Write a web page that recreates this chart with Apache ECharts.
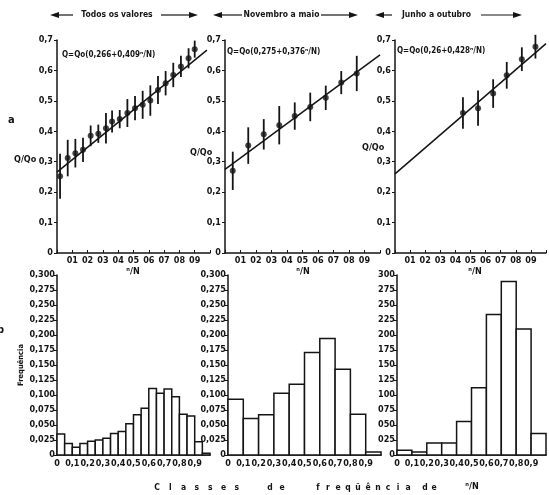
<!DOCTYPE html>
<html><head><meta charset="utf-8">
<script src="https://cdn.jsdelivr.net/npm/echarts@6/dist/echarts.min.js"></script>
<style>html,body{margin:0;padding:0;background:#fff}#c{width:549px;height:495px}</style>
</head><body><div id="c"></div>
<script>
// ---- panel titles
const panelTitles = ['Todos os valores', 'Novembro a maio', 'Junho a outubro'];
// ---- top panels (a): Q/Qo versus n/N, mean with error bars
const allX = [0.02,0.07,0.12,0.17,0.22,0.27,0.32,0.36,0.41,0.46,0.51,0.56,0.61,0.66,0.71,0.76,0.81,0.86,0.90];
const allY = [0.252,0.312,0.328,0.339,0.385,0.392,0.41,0.432,0.44,0.46,0.476,0.487,0.501,0.536,0.558,0.585,0.613,0.64,0.67];
const allErr = [0.074,0.06,0.047,0.04,0.034,0.03,0.05,0.036,0.03,0.046,0.04,0.046,0.05,0.046,0.04,0.04,0.035,0.033,0.028];
const novX = [0.05,0.15,0.25,0.35,0.45,0.55,0.65,0.75,0.85];
const novY = [0.27,0.353,0.39,0.42,0.45,0.48,0.51,0.56,0.59];
const novErr = [0.063,0.06,0.05,0.063,0.045,0.047,0.04,0.038,0.058];
const junX = [0.45,0.55,0.65,0.74,0.84,0.93];
const junY = [0.46,0.476,0.524,0.584,0.637,0.678];
const junErr = [0.052,0.058,0.047,0.044,0.039,0.039];
// regression lines Q = Qo(a + b n/N)
const fitIntercept = [0.266, 0.275, 0.26];
const fitSlope = [0.409, 0.376, 0.428];
const fitXEnd = [0.98, 1.0, 1.0];
const eqLabels = ['Q=Qo(0,266+0,409ⁿ/N)', 'Q=Qo(0,275+0,376ⁿ/N)', 'Q=Qo(0,26+0,428ⁿ/N)'];
// ---- bottom panels (b): frequency histograms of n/N classes
const histAllEdges = [0,0.05,0.1,0.15,0.2,0.25,0.3,0.35,0.4,0.45,0.5,0.55,0.6,0.65,0.7,0.75,0.8,0.85,0.9,0.95,1.0];
const histAllFreq = [0.035,0.019,0.013,0.019,0.023,0.025,0.028,0.036,0.039,0.052,0.067,0.078,0.111,0.103,0.110,0.097,0.068,0.065,0.022,0.003];
const histNovEdges = [0,0.1,0.2,0.3,0.4,0.5,0.6,0.7,0.8,0.9,1.0];
const histNovFreq = [0.093,0.061,0.067,0.103,0.118,0.171,0.194,0.143,0.068,0.005];
const histJunEdges = [0,0.1,0.2,0.3,0.4,0.5,0.6,0.7,0.8,0.9,1.0];
const histJunFreq = [0.008,0.005,0.020,0.020,0.056,0.112,0.234,0.289,0.210,0.036];
const xTitleWords = ['Classes', 'de', 'freqüência', 'de'];

const FONT = "'DejaVu Sans Condensed','DejaVu Sans',sans-serif";
const INK = '#141414';

const topGrids = [{left:57,width:153},{left:225,width:155},{left:395,width:154}];
const botGrids = [{left:57,width:153},{left:228,width:153},{left:397,width:152}];

const grids = [], xAxes = [], yAxes = [], series = [];
const lab = {color:INK, fontFamily:FONT, fontWeight:'bold', fontSize:9};

topGrids.forEach((g,i)=>{
  grids.push({left:g.left, width:g.width, top:40, height:213});
  xAxes.push({gridIndex:i, type:'value', min:0, max:1, interval:0.1,
    axisLine:{lineStyle:{color:INK,width:1.5}},
    axisTick:{inside:true,length:3,lineStyle:{color:INK,width:1}},
    splitLine:{show:false},
    axisLabel:Object.assign({margin:3, formatter:v=>(v>0.001&&v<0.999)?('0'+Math.round(v*10)):''}, lab)});
  yAxes.push({gridIndex:i, type:'value', min:0, max:0.7, interval:0.1,
    axisLine:{show:true,lineStyle:{color:INK,width:1.5}},
    axisTick:{show:true,length:3,lineStyle:{color:INK,width:1}},
    splitLine:{show:false},
    axisLabel:Object.assign({margin:4, formatter:v=>v<0.001?'0':v.toFixed(1).replace('.',',')}, lab)});
});
botGrids.forEach((g,i)=>{
  grids.push({left:g.left, width:g.width, top:275, height:180});
  const k = i+3;
  xAxes.push({gridIndex:k, type:'value', min:0, max:1, interval:0.1,
    axisLine:{lineStyle:{color:INK,width:1.5}},
    axisTick:{show:false},
    splitLine:{show:false},
    axisLabel:Object.assign({margin:4, formatter:v=>v<0.001?'0':(v<0.999?v.toFixed(1).replace('.',','):'')}, lab)});
  yAxes.push({gridIndex:k, type:'value', min:0, max:0.3, interval:0.025,
    axisLine:{show:true,lineStyle:{color:INK,width:1.5}},
    axisTick:{show:true,length:3,lineStyle:{color:INK,width:1}},
    splitLine:{show:false},
    axisLabel:Object.assign({margin:2, fontSize:8.5, formatter:v=>{
      if(v<0.001) return '0';
      const s=v.toFixed(3);
      return i===2 ? s.slice(2) : s.replace('.',',');
    }}, lab)});
});

const pts = [[allX,allY,allErr],[novX,novY,novErr],[junX,junY,junErr]];
pts.forEach((p,i)=>{
  const d = p[0].map((x,j)=>[x,p[1][j],p[2][j]]);
  series.push({type:'custom', xAxisIndex:i, yAxisIndex:i, clip:false, encode:{x:0,y:1}, data:d, z:3,
    renderItem:(params,api)=>{
      const x=api.value(0), y=api.value(1), e=api.value(2);
      const a=api.coord([x,y-e]), b=api.coord([x,y+e]);
      return {type:'line', shape:{x1:a[0],y1:a[1],x2:b[0],y2:b[1]}, style:{stroke:INK,lineWidth:1.8}};
    }});
  series.push({type:'scatter', xAxisIndex:i, yAxisIndex:i, symbol:'circle', symbolSize:6, z:4,
    itemStyle:{color:INK}, data:d.map(r=>[r[0],r[1]]), silent:true});
  const a=fitIntercept[i], b=fitSlope[i], xe=fitXEnd[i];
  series.push({type:'line', xAxisIndex:i, yAxisIndex:i, symbol:'none', z:2, silent:true,
    lineStyle:{color:INK,width:1.5}, data:[[0,a],[xe,a+b*xe]]});
});

const hists = [[histAllEdges,histAllFreq],[histNovEdges,histNovFreq],[histJunEdges,histJunFreq]];
hists.forEach((h,i)=>{
  const d = h[1].map((f,j)=>[h[0][j],h[0][j+1],f]);
  series.push({type:'custom', xAxisIndex:i+3, yAxisIndex:i+3, encode:{x:[0,1],y:2}, data:d, z:2,
    renderItem:(params,api)=>{
      const p0=api.coord([api.value(0),0]), p1=api.coord([api.value(1),api.value(2)]);
      return {type:'rect', shape:{x:p0[0],y:p1[1],width:p1[0]-p0[0],height:p0[1]-p1[1]},
        style:{fill:'#fff',stroke:INK,lineWidth:1.5}};
    }});
});

// ---- decorations (text labels, header arrows)
const graphic = [];
const T = (x,y,text,opt)=>graphic.push({type:'text', x, y, style:Object.assign({text, fill:INK, font:'bold 9px '+FONT, textAlign:'left', textVerticalAlign:'middle'}, opt||{})});
const headers = [{xl:50,xr:198,ts:76,te:158},{xl:213,xr:358,ts:245,te:318},{xl:375,xr:522,ts:395,te:478}];
headers.forEach((h,i)=>{
  const y=15;
  graphic.push({type:'polygon', shape:{points:[[h.xl,y],[h.xl+9,y-3],[h.xl+9,y+3]]}, style:{fill:INK}});
  graphic.push({type:'polygon', shape:{points:[[h.xr,y],[h.xr-9,y-3],[h.xr-9,y+3]]}, style:{fill:INK}});
  graphic.push({type:'line', shape:{x1:h.xl+8,y1:y,x2:h.ts-3,y2:y}, style:{stroke:INK,lineWidth:1.2}});
  graphic.push({type:'line', shape:{x1:h.te+3,y1:y,x2:h.xr-8,y2:y}, style:{stroke:INK,lineWidth:1.2}});
  T((h.ts+h.te)/2, y, panelTitles[i], {textAlign:'center', font:'bold 8.5px '+FONT});
});
const eqPos = [[62,55],[227,52],[397,51]];
eqLabels.forEach((t,i)=>T(eqPos[i][0], eqPos[i][1], t, {font:'bold 8px '+FONT}));
const qPos = [[14,160],[190,153],[362,148]];
qPos.forEach(p=>T(p[0],p[1],'Q/Qo',{font:'bold 9px '+FONT}));
[133,303,475].forEach(x=>T(x,272,'ⁿ/N',{textAlign:'center', font:'bold 9px '+FONT}));
T(8,120,'a',{font:'bold 11px '+FONT});
T(-3,330,'b',{font:'bold 11px '+FONT});
graphic.push({type:'text', x:21, y:365, rotation:Math.PI/2,
  style:{text:'Frequência', fill:INK, font:'bold 7.5px '+FONT, textAlign:'center', textVerticalAlign:'middle'}});
// spaced-out bottom title
const wordStart = [157, 270, 318, 425];
const wordStep = [13.3, 12, 10, 9];
xTitleWords.forEach((w,k)=>{
  [...w].forEach((ch,j)=>T(wordStart[k]+j*wordStep[k], 488, ch, {textAlign:'center', font:'bold 8.5px '+FONT}));
});
T(472,487,'ⁿ/N',{textAlign:'center', font:'bold 9px '+FONT});

const chart = echarts.init(document.getElementById('c'), null, {renderer:'canvas'});
chart.setOption({backgroundColor:'#fff', animation:false, grid:grids, xAxis:xAxes, yAxis:yAxes, series, graphic});
</script></body></html>
